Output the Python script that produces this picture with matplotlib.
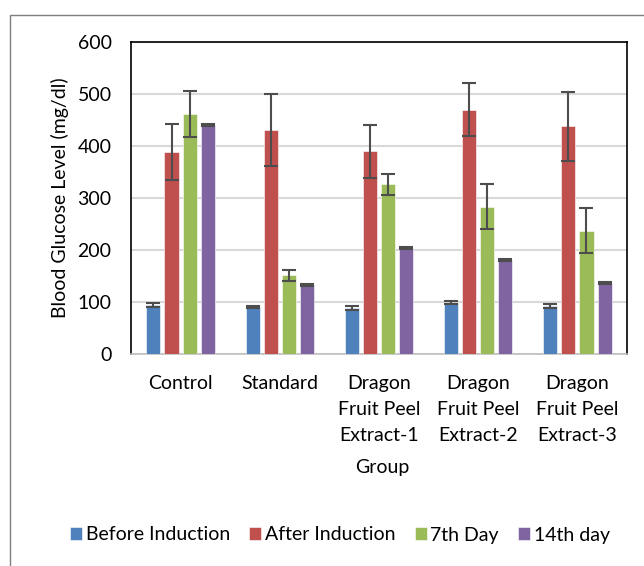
import matplotlib
matplotlib.use("Agg")
import matplotlib.pyplot as plt
import numpy as np
from matplotlib.patches import Rectangle

# data
groups = ["Control", "Standard", "Dragon\nFruit Peel\nExtract-1",
          "Dragon\nFruit Peel\nExtract-2", "Dragon\nFruit Peel\nExtract-3"]
series = ["Before Induction", "After Induction", "7th Day", "14th day"]
before = [94, 91, 88, 99, 93]
after = [389, 431, 390, 470, 438]
day7 = [461, 151, 326, 283, 237]
day14 = [440, 132, 203, 180, 136]
before_err = [4, 2, 4, 2, 4]
after_err = [54, 69, 51, 51, 66]
day7_err = [44, 10, 20, 43, 43]
day14_err = [2, 2, 2, 2, 2]

colors = ["#4F81BD", "#C0504D", "#9BBB59", "#8064A2"]
plt.rcParams["font.family"] = ["Lato", "DejaVu Sans"]
plt.rcParams["font.size"] = 14

fig = plt.figure(figsize=(6.44, 5.66), dpi=100)
ax = fig.add_axes([131 / 644, 1 - 354 / 566, 496 / 644, 312 / 566])

# outer chart frame
fig.patches.append(Rectangle((10 / 644, -0.1), 1.1, 1 - 15 / 566 + 0.1,
                             transform=fig.transFigure, fill=False,
                             edgecolor="#7f7f7f", linewidth=1))

x = np.arange(len(groups))
pitch = 0.183
width = 0.142
vals = [before, after, day7, day14]
errs = [before_err, after_err, day7_err, day14_err]
for i, (v, e) in enumerate(zip(vals, errs)):
    pos = x + (i - 1.5) * pitch
    ax.bar(pos, v, width, color=colors[i], edgecolor="white", linewidth=0.4,
           label=series[i], zorder=3)
    ax.errorbar(pos, v, yerr=e, fmt="none", ecolor="#4d4d4d", elinewidth=1.5,
                capsize=5, capthick=1.5, zorder=4)

ax.set_xlim(-0.5, len(groups) - 0.5)
ax.set_ylim(0, 600)
ax.set_yticks(range(0, 601, 100))
ax.yaxis.grid(True, color="#D9D9D9", linewidth=1.5, zorder=0)
ax.set_axisbelow(True)
ax.set_xticks(x)
ax.set_xticklabels(groups, linespacing=1.65, va="top")
ax.tick_params(axis="x", length=0, pad=15)
ax.tick_params(axis="y", length=0, pad=14)
for s in ["left", "top", "right"]:
    ax.spines[s].set_color("black")
    ax.spines[s].set_linewidth(1.2)
ax.spines["bottom"].set_color("#BFBFBF")
ax.spines["bottom"].set_linewidth(1.2)

ax.set_ylabel("Blood Glucose Level (mg/dl)", labelpad=6)
fig.text(382 / 644, 1 - 467 / 566, "Group", ha="center", va="center")

fig.legend(loc="center", bbox_to_anchor=(340 / 644, 1 - 535 / 566), ncol=4,
           frameon=False, handlelength=0.6, handleheight=0.6,
           handletextpad=0.2, columnspacing=1.0)

fig.savefig("out.png", dpi=100)
